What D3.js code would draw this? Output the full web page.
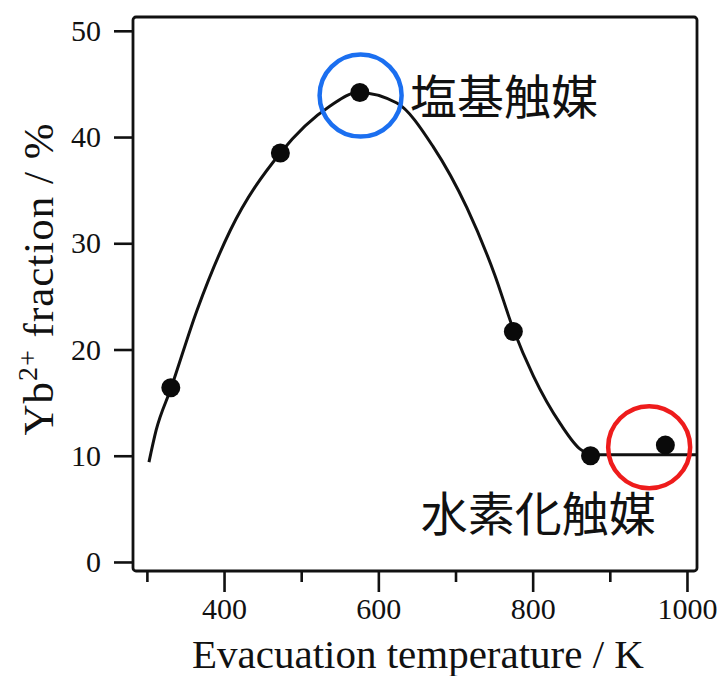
<!DOCTYPE html>
<html>
<head>
<meta charset="utf-8">
<script src="https://cdn.jsdelivr.net/npm/d3@7"></script>
<style>
  html, body { margin: 0; padding: 0; background: #fff; }
  svg text { fill: #111; }
</style>
</head>
<body>
<div id="viz"></div>
<script>
// measured points (temperature K, Yb2+ fraction %)
var pointT = [331, 473, 576, 775, 875, 972];
var pointV = [16.4, 38.5, 44.2, 21.7, 10.0, 11.0];

// fitted curve
var curveT = [302.7, 312, 331, 365, 408, 473, 537, 574, 624, 671, 715, 751, 775, 801, 836, 862, 880, 920, 1013];
var curveV = [9.4, 12.4, 16.3, 23.7, 31.2, 38.5, 42.9, 44.2, 43.2, 39.1, 33.3, 27.0, 21.9, 17.5, 13.0, 10.6, 10.1, 10.1, 10.1];

var yTicks = [0, 10, 20, 30, 40, 50];
var xMajor = [400, 600, 800, 1000];
var xMinor = [300, 500, 700, 900];

// highlighted catalysts
var markNames = ["塩基触媒", "水素化触媒"];
var markT = [577, 951];
var markV = [43.9, 10.8];
var markColors = ["#1b6ff0", "#ee1c1c"];
var labelT = [641, 655];
var labelV = [44.1, 4.8];

var width = 728, height = 676;
var plotL = 133, plotR = 697, plotT = 17, plotB = 571;

var svg = d3.select("#viz").append("svg")
  .attr("width", width)
  .attr("height", height);

var x = d3.scaleLinear().domain([282, 1013]).range([plotL, plotR]);
var y = d3.scaleLinear().domain([-0.85, 51.3]).range([plotB, plotT]);

// frame
svg.append("rect")
  .attr("x", plotL).attr("y", plotT)
  .attr("width", plotR - plotL).attr("height", plotB - plotT)
  .attr("rx", 3)
  .attr("fill", "none").attr("stroke", "#111").attr("stroke-width", 2.8);

// y axis
var yAxis = d3.axisLeft(y).tickValues(yTicks).tickSize(19).tickPadding(13);
var gy = svg.append("g").attr("transform", "translate(" + plotL + ",0)").call(yAxis);
gy.select(".domain").remove();
gy.selectAll("line").attr("stroke", "#111").attr("stroke-width", 2.6);
gy.selectAll("text")
  .attr("font-family", "Liberation Serif, Times New Roman, serif")
  .attr("font-size", 30).attr("fill", "#111");

// x axis
var xAxis = d3.axisBottom(x).tickValues(xMajor).tickSize(21).tickPadding(6).tickFormat(d3.format("d"));
var gx = svg.append("g").attr("transform", "translate(0," + plotB + ")").call(xAxis);
gx.select(".domain").remove();
gx.selectAll("line").attr("stroke", "#111").attr("stroke-width", 2.6);
gx.selectAll("text")
  .attr("font-family", "Liberation Serif, Times New Roman, serif")
  .attr("font-size", 30).attr("fill", "#111");

var xAxisMinor = d3.axisBottom(x).tickValues(xMinor).tickSize(11).tickFormat("");
var gxm = svg.append("g").attr("transform", "translate(0," + plotB + ")").call(xAxisMinor);
gxm.select(".domain").remove();
gxm.selectAll("line").attr("stroke", "#111").attr("stroke-width", 2.6);

// axis titles
svg.append("text")
  .attr("x", 418)
  .attr("y", 668)
  .attr("text-anchor", "middle")
  .attr("font-family", "Liberation Serif, Times New Roman, serif")
  .attr("font-size", 41)
  .text("Evacuation temperature / K");

var ylab = svg.append("text")
  .attr("transform", "translate(53,279) rotate(-90)")
  .attr("text-anchor", "middle")
  .attr("font-family", "Liberation Serif, Times New Roman, serif")
  .attr("font-size", 43)
  .attr("letter-spacing", 1);
ylab.append("tspan").text("Yb");
ylab.append("tspan").attr("font-size", 28).attr("dy", -16).text("2+");
ylab.append("tspan").attr("dy", 16).text(" fraction / %");

// curve
var curveData = curveT.map(function(t, i) { return [t, curveV[i]]; });
var line = d3.line()
  .x(function(d) { return x(d[0]); })
  .y(function(d) { return y(d[1]); })
  .curve(d3.curveMonotoneX);

svg.append("path")
  .datum(curveData)
  .attr("d", line)
  .attr("fill", "none")
  .attr("stroke", "#111")
  .attr("stroke-width", 3);

// dots
svg.selectAll("circle.pt")
  .data(pointT)
  .enter().append("circle")
  .attr("class", "pt")
  .attr("cx", function(d) { return x(d); })
  .attr("cy", function(d, i) { return y(pointV[i]); })
  .attr("r", 9.5)
  .attr("fill", "#0a0a0a");

// highlight rings and labels
svg.selectAll("circle.mark")
  .data(markT)
  .enter().append("circle")
  .attr("class", "mark")
  .attr("cx", function(d) { return x(d); })
  .attr("cy", function(d, i) { return y(markV[i]); })
  .attr("r", 41)
  .attr("fill", "none")
  .attr("stroke", function(d, i) { return markColors[i]; })
  .attr("stroke-width", 4.5);

svg.selectAll("text.mark")
  .data(markNames)
  .enter().append("text")
  .attr("class", "mark")
  .attr("x", function(d, i) { return x(labelT[i]); })
  .attr("y", function(d, i) { return y(labelV[i]); })
  .attr("dominant-baseline", "central")
  .attr("font-family", "Noto Sans CJK JP, sans-serif")
  .attr("font-size", 47)
  .text(function(d) { return d; });
</script>
</body>
</html>
